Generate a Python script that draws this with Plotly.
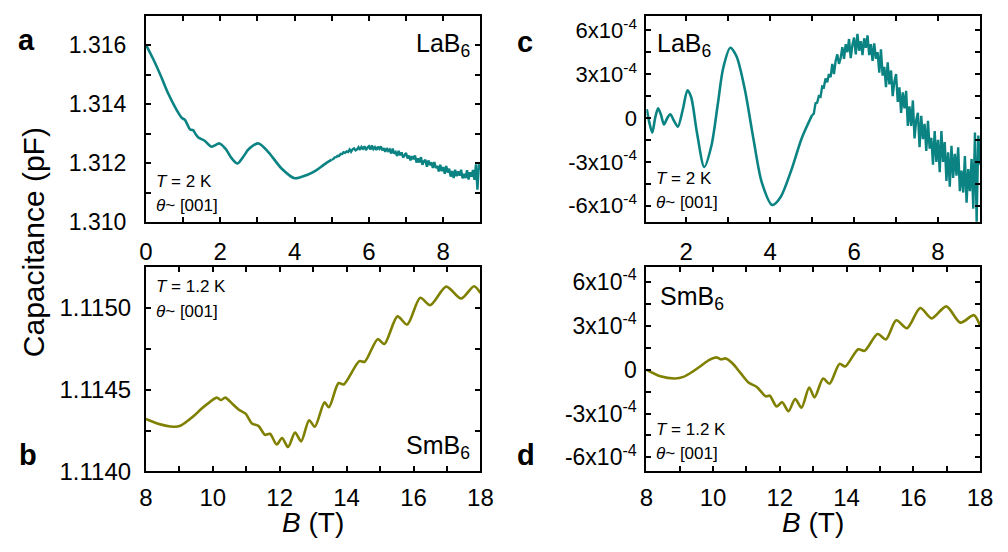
import numpy as np
import plotly.graph_objects as go

# ---------------- data ----------------
# Panel a: LaB6 capacitance (pF), smooth low-field part
lab6_B_smooth = [0.0, 0.2, 0.4, 0.6, 0.83, 0.97, 1.05, 1.12, 1.19, 1.27, 1.34, 1.41, 1.58, 1.76,
                 1.98, 2.15, 2.30, 2.46, 2.62, 2.77, 3.03, 3.30, 3.65, 4.00, 4.35, 4.57, 4.80, 5.00]
lab6_C_smooth = [1.31602, 1.31552, 1.31496, 1.31436, 1.31380, 1.31353, 1.31347, 1.31330, 1.31314,
                 1.31312, 1.31298, 1.31287, 1.31276, 1.31256, 1.31267, 1.31248, 1.31218, 1.31199,
                 1.31222, 1.31248, 1.31267, 1.31237, 1.31182, 1.31149, 1.31161, 1.31175, 1.31196,
                 1.31212]
# noisy high-field part, sampled every 0.04 T from 5 T to 9 T
noisy_B = np.round(5.0 + 0.04 * np.arange(101), 2)
# values in units of 1e-4 pF above 1.3100 pF
lab6_C_noisy_e4 = [21.3, 21.35, 22.0, 22.05, 22.5, 22.45, 23.15, 23.1, 23.7, 23.5,
                   24.0, 23.8, 24.65, 23.9, 24.7, 25.05, 24.35, 24.7, 25.4, 24.55,
                   25.5, 24.9, 25.75, 24.45, 25.3, 25.75, 24.63, 26.0, 24.8, 25.45,
                   24.45, 25.58, 24.87, 25.72, 24.33, 25.05, 23.85, 25.1, 24.15, 24.65,
                   23.3, 24.95, 23.2, 23.8, 22.45, 24.2, 22.68, 23.65, 21.93, 22.9,
                   23.45, 21.6, 22.6, 20.95, 22.35, 21.35, 22.6, 20.2, 21.6, 20.25,
                   22.05, 19.45, 20.65, 21.15, 18.8, 20.95, 19.3, 20.3, 18.4, 20.4,
                   18.4, 19.1, 17.2, 19.45, 17.3, 18.7, 16.4, 19.05, 16.85, 18.15,
                   15.45, 17.35, 15.0, 17.8, 15.6, 17.25, 15.8, 17.8, 14.9, 16.4,
                   15.0, 17.6, 14.5, 16.9, 15.45, 17.7, 14.4, 19.6, 11.0, 19.6,
                   17.7]

# Panel c: LaB6 background-subtracted (units of 1e-4)
lab6_dB_smooth = [1.06, 1.12, 1.19, 1.26, 1.33, 1.40, 1.47, 1.55, 1.62, 1.71, 1.80, 1.92, 2.03, 2.12,
                  2.25, 2.43, 2.60, 2.75, 2.88, 3.05, 3.20, 3.40, 3.60, 3.80, 4.05, 4.25, 4.50, 4.75, 5.00]
lab6_dC_smooth_e4 = [0.6, -0.3, -1.0, 0.0, 0.67, 0.2, -0.45, 0.0, 0.25, -0.2, -0.6, 0.6, 1.9, 1.4,
                     -0.9, -3.35, -1.9, 0.9, 3.4, 4.8, 4.2, 1.9, -1.4, -4.4, -5.95, -5.4, -3.6, -1.4, 0.2]
lab6_dC_noisy_e4 = [0.2, 0.3, 1.0, 1.05, 1.5, 1.45, 2.15, 2.1, 2.7, 2.45,
                    3.0, 2.8, 3.7, 3.0, 3.9, 4.35, 3.7, 4.1, 4.85, 4.05,
                    5.05, 4.5, 5.4, 4.1, 5.0, 5.5, 4.35, 5.75, 4.6, 5.25,
                    4.3, 5.45, 4.8, 5.65, 4.3, 5.05, 3.9, 5.1, 4.05, 4.5,
                    3.1, 4.7, 2.9, 3.5, 2.1, 3.8, 2.3, 3.25, 1.5, 2.5,
                    3.0, 1.1, 2.1, 0.35, 1.75, 0.65, 1.85, -0.55, 0.8, -0.55,
                    1.2, -1.4, -0.15, 0.35, -2.0, 0.15, -1.45, -0.4, -2.25, -0.2,
                    -2.1, -1.35, -3.2, -0.9, -3.0, -1.5, -3.7, -0.9, -3.0, -1.65,
                    -4.3, -2.35, -4.7, -1.9, -4.1, -2.45, -3.95, -2.0, -5.0, -3.6,
                    -5.1, -2.6, -5.8, -3.5, -5.0, -2.8, -6.2, -1.0, -7.1, -1.2,
                    -3.2]

# Panel b: SmB6 capacitance (pF)
smb6_B = [8.0, 8.34, 8.83, 9.03, 9.42, 9.66, 9.90, 10.12, 10.25, 10.37, 10.59, 10.78, 10.98, 11.17,
          11.37, 11.56, 11.71, 11.91, 12.07, 12.25, 12.46, 12.64, 12.88, 13.05, 13.34, 13.47, 13.76,
          13.91, 14.38, 14.54, 14.93, 15.13, 15.52, 15.81, 16.20, 16.50, 16.98, 17.42, 17.81, 18.0]
smb6_C = [1.11432, 1.114293, 1.114273, 1.114279, 1.114337, 1.114383, 1.114422, 1.114451, 1.114436,
          1.114451, 1.114412, 1.114377, 1.114353, 1.114293, 1.114277, 1.114224, 1.114230, 1.114165,
          1.114204, 1.114149, 1.114238, 1.114184, 1.114313, 1.114273, 1.114422, 1.114392, 1.114540,
          1.114531, 1.114674, 1.114670, 1.114808, 1.114778, 1.114947, 1.114897, 1.115061, 1.115016,
          1.115129, 1.115056, 1.115131, 1.115089]

# Panel d: SmB6 background-subtracted (units of 1e-4)
smb6_dB = [8.0, 8.42, 8.86, 9.11, 9.40, 9.65, 9.89, 10.11, 10.23, 10.38, 10.58, 10.82, 11.07, 11.31,
           11.58, 11.70, 11.90, 12.07, 12.26, 12.46, 12.65, 12.88, 13.04, 13.30, 13.49, 13.79, 13.96,
           14.35, 14.54, 14.93, 15.18, 15.49, 15.81, 16.21, 16.55, 16.99, 17.41, 17.82, 18.0]
smb6_dC_e4 = [0.0, -0.45, -0.6, -0.49, -0.11, 0.29, 0.67, 0.84, 0.71, 0.77, 0.44, -0.22, -0.89, -1.18,
              -1.82, -1.78, -2.51, -2.22, -2.84, -2.0, -2.6, -1.22, -1.89, -0.6, -0.96, 0.4, 0.22,
              1.4, 1.29, 2.44, 2.07, 3.38, 2.84, 4.22, 3.51, 4.33, 3.22, 3.73, 3.0]

# tick labels
osc_tickvals = [-6e-4, -3e-4, 0, 3e-4, 6e-4]
osc_ticktext = ["-6x10<sup>-4</sup>", "-3x10<sup>-4</sup>", "0", "3x10<sup>-4</sup>", "6x10<sup>-4</sup>"]

# ---------------- figure ----------------
W, H = 1008, 552
def px(x):
    return x / W
def py(y):
    return 1 - y / H

TEAL = '#0b8383'
OLIVE = '#808000'
FONT = 'Liberation Sans, Arial, Helvetica, sans-serif'

e4 = 1e-4
fig = go.Figure()
fig.add_trace(go.Scatter(x=lab6_B_smooth, y=lab6_C_smooth, mode='lines',
                         line=dict(color=TEAL, width=2.6, shape='spline', smoothing=0.8),
                         xaxis='x', yaxis='y', hoverinfo='skip', showlegend=False))
fig.add_trace(go.Scatter(x=noisy_B, y=1.31 + np.array(lab6_C_noisy_e4) * e4, mode='lines',
                         line=dict(color=TEAL, width=2.4),
                         xaxis='x', yaxis='y', hoverinfo='skip', showlegend=False))
fig.add_trace(go.Scatter(x=smb6_B, y=smb6_C, mode='lines',
                         line=dict(color=OLIVE, width=2.6, shape='spline', smoothing=0.8),
                         xaxis='x2', yaxis='y2', hoverinfo='skip', showlegend=False))
fig.add_trace(go.Scatter(x=lab6_dB_smooth, y=np.array(lab6_dC_smooth_e4) * e4, mode='lines',
                         line=dict(color=TEAL, width=2.6, shape='spline', smoothing=0.8),
                         xaxis='x3', yaxis='y3', hoverinfo='skip', showlegend=False))
fig.add_trace(go.Scatter(x=noisy_B, y=np.array(lab6_dC_noisy_e4) * e4, mode='lines',
                         line=dict(color=TEAL, width=2.4),
                         xaxis='x3', yaxis='y3', hoverinfo='skip', showlegend=False))
fig.add_trace(go.Scatter(x=smb6_dB, y=np.array(smb6_dC_e4) * e4, mode='lines',
                         line=dict(color=OLIVE, width=2.6, shape='spline', smoothing=0.8),
                         xaxis='x4', yaxis='y4', hoverinfo='skip', showlegend=False))


def ax(size=22, **kw):
    d = dict(showline=True, linecolor='black', linewidth=2, mirror='ticks',
             ticks='inside', ticklen=5, tickwidth=1.5, tickcolor='black',
             showgrid=False, zeroline=False,
             tickfont=dict(family=FONT, size=size, color='black'))
    d.update(kw)
    return d

LEFT = [px(141.7), px(483.0)]
RIGHT = [px(652.3), px(992.7)]
TOP = [py(227.0), py(15.0)]
BOT = [py(482.7), py(272.7)]

minor_x = dict(ticks='inside', ticklen=5, tickwidth=1.5, tickcolor='black', dtick=1, tick0=0)

fig.update_layout(
    width=W, height=H, margin=dict(l=0, r=0, t=0, b=0),
    paper_bgcolor='white', plot_bgcolor='white', showlegend=False,
    xaxis=ax(24, domain=LEFT, anchor='y', range=[0, 9], tickvals=[0, 2, 4, 6, 8],
             minor=minor_x, ticklabelstandoff=7),
    yaxis=ax(23, domain=TOP, anchor='x', range=[1.310, 1.317],
             tickvals=[1.310, 1.312, 1.314, 1.316], ticktext=['1.310', '1.312', '1.314', '1.316'],
             minor=dict(ticks='inside', ticklen=5, tickwidth=1.5, tickcolor='black',
                        tickvals=[1.311, 1.313, 1.315]), ticklabelstandoff=13),
    xaxis2=ax(24, domain=LEFT, anchor='y2', range=[8, 18], tickvals=[8, 10, 12, 14, 16, 18],
              minor=minor_x, ticklabelstandoff=4),
    yaxis2=ax(24, domain=BOT, anchor='x2', range=[1.1140, 1.11525],
              tickvals=[1.1140, 1.1145, 1.1150], ticktext=['1.1140', '1.1145', '1.1150'],
              minor=dict(ticks='inside', ticklen=5, tickwidth=1.5, tickcolor='black',
                         tickvals=[1.11425, 1.11475, 1.11525]), ticklabelstandoff=8),
    xaxis3=ax(24, domain=RIGHT, anchor='y3', range=[1.05, 9], tickvals=[2, 4, 6, 8],
              minor=minor_x, ticklabelstandoff=7),
    yaxis3=ax(22, domain=TOP, anchor='x3', range=[-7.13e-4, 7.0e-4],
              tickvals=osc_tickvals, ticktext=osc_ticktext,
              minor=dict(ticks='inside', ticklen=5, tickwidth=1.5, tickcolor='black',
                         tickvals=[-4.5e-4, -1.5e-4, 1.5e-4, 4.5e-4]), ticklabelstandoff=3),
    xaxis4=ax(24, domain=RIGHT, anchor='y4', range=[8, 18], tickvals=[8, 10, 12, 14, 16, 18],
              minor=minor_x, ticklabelstandoff=4),
    yaxis4=ax(23, domain=BOT, anchor='x4', range=[-6.96e-4, 7.04e-4],
              tickvals=osc_tickvals, ticktext=osc_ticktext,
              minor=dict(ticks='inside', ticklen=5, tickwidth=1.5, tickcolor='black',
                         tickvals=[-4.5e-4, -1.5e-4, 1.5e-4, 4.5e-4]), ticklabelstandoff=3),
)

def note(text, x, y, size, xanchor='left', yanchor='middle', bold=False, angle=0):
    fig.add_annotation(text=f'<b>{text}</b>' if bold else text, x=px(x), y=py(y),
                       xref='paper', yref='paper', xanchor=xanchor, yanchor=yanchor,
                       showarrow=False, textangle=angle,
                       font=dict(family=FONT, size=size, color='black'))

# panel letters
note('a', 20, 40, 29, 'center', bold=True)
note('b', 21, 466, 29, 'center', bold=True)
note('c', 528, 42, 29, 'center', bold=True)
note('d', 529, 466, 29, 'center', bold=True)
# sample labels
note('LaB<sub>6</sub>', 474, 45, 25, 'right')
note('LaB<sub>6</sub>', 661, 45, 25, 'left')
note('SmB<sub>6</sub>', 474, 458, 25, 'right')
note('SmB<sub>6</sub>', 664, 305, 25, 'left')
# conditions
note('<i>T</i> = 2 K', 150, 185, 17)
note('<i>θ</i>~ [001]', 150, 210, 17)
note('<i>T</i> = 1.2 K', 150, 293, 17)
note('<i>θ</i>~ [001]', 150, 319, 17)
note('<i>T</i> = 2 K', 660, 182, 17)
note('<i>θ</i>~ [001]', 660, 207, 17)
note('<i>T</i> = 1.2 K', 660, 440, 17)
note('<i>θ</i>~ [001]', 660, 464, 17)
# axis titles
note('Capacitance (pF)', 27, 247, 30, 'center', angle=-90)
note('<i>B</i> (T)', 312, 535, 28, 'center')
note('<i>B</i> (T)', 822, 535, 28, 'center')

fig.write_html('out.html')
